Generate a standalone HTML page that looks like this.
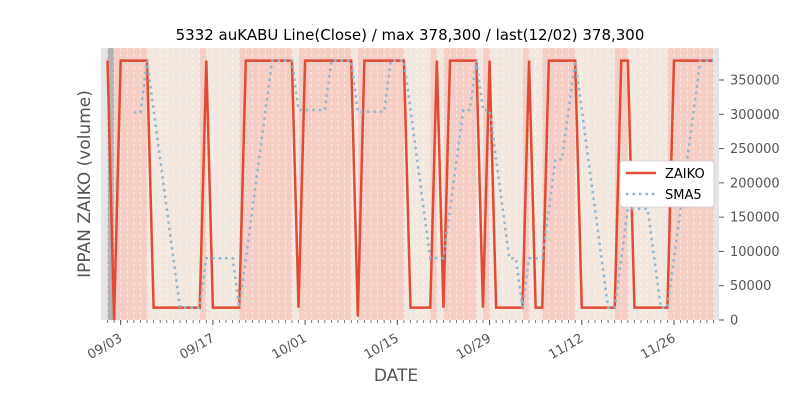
<!DOCTYPE html>
<html><head><meta charset="utf-8"><style>
body{margin:0;background:#fff;}
svg{display:block;font-family:"Liberation Sans","DejaVu Sans",sans-serif;}
</style></head><body>
<svg id="chart" width="800" height="400" viewBox="0 0 800 400">
<text x="410" y="40" text-anchor="middle" font-size="15" font-family="DejaVu Sans, sans-serif">5332 auKABU Line(Close) / max 378,300 / last(12/02) 378,300</text>
<rect x="101" y="48" width="618" height="272" fill="#e5e5e5"/>
<g id="bands"></g><g id="grid"></g><g id="series"></g><g id="axes"></g>
<text x="396" y="381" text-anchor="middle" font-size="17" fill="#555" font-family="DejaVu Sans, sans-serif">DATE</text>
<text transform="translate(90,184) rotate(-90)" text-anchor="middle" font-size="17" fill="#555" font-family="DejaVu Sans, sans-serif">IPPAN ZAIKO (volume)</text>
<g>
<rect x="620" y="161" width="94" height="46" rx="3" fill="#fff" stroke="#ccc" stroke-width="0.8"/>
<line x1="626" y1="173" x2="656" y2="173" stroke="#e24a33" stroke-width="2.5"/>
<text x="665" y="178" font-size="13" font-family="DejaVu Sans, sans-serif">ZAIKO</text>
<line x1="626" y1="194" x2="656" y2="194" stroke="#8fb6d3" stroke-width="2.5" stroke-dasharray="2.5,4"/>
<text x="665" y="199" font-size="13" font-family="DejaVu Sans, sans-serif">SMA5</text>
</g>
</svg>
<script>
const T=378300, L=18000;
const zaiko=[T,0,T,T,T,T,T,L,L,L,L,L,L,L,L,T,L,L,L,L,L,T,T,T,T,T,T,T,T,L,T,T,T,T,T,T,T,T,5000,T,T,T,T,T,T,T,L,L,L,L,T,L,T,T,T,T,T,L,T,L,L,L,L,L,T,L,L,T,T,T,T,T,L,L,L,L,L,L,T,T,L,L,L,L,L,L,T,T,T,T,T,T,T];
const sma5=[null,null,null,null,302640,302640,378300,306240,234180,162120,90060,18000,18000,18000,18000,90060,90060,90060,90060,90060,18000,90060,162120,234180,306240,378300,378300,378300,378300,306240,306240,306240,306240,306240,378300,378300,378300,378300,303640,303640,303640,303640,303640,378300,378300,378300,306240,234180,162120,90060,90060,90060,162120,234180,306240,306240,378300,306240,306240,234180,162120,90060,90060,18000,90060,90060,90060,162120,234180,234180,306240,378300,306240,234180,162120,90060,18000,18000,90060,162120,162120,162120,162120,90060,18000,18000,90060,162120,234180,306240,378300,378300,378300];
const xTickDays=[2,16,30,44,58,72,86];
const xTickLabels=["09/03","09/17","10/01","10/15","10/29","11/12","11/26"];
const yTicks=[0,50000,100000,150000,200000,250000,300000,350000];
const NS="http://www.w3.org/2000/svg";
const STEP=6.587;
const X=i=>107.5+STEP*i, Y=v=>320-v*240/350000;
function mk(p,tag,at){const e=document.createElementNS(NS,tag);for(const k in at)e.setAttribute(k,at[k]);p.appendChild(e);return e;}
const bands=document.getElementById('bands'),grid=document.getElementById('grid'),ser=document.getElementById('series'),ax=document.getElementById('axes');
let r=mk(bands,'rect',{x:X(0),y:48,width:X(zaiko.length-1)-X(0),height:272,fill:'#f2e8df'});


for(let i=1;i<zaiko.length;i++){
  if(zaiko[i]===T){const b=mk(bands,'rect',{x:X(i-1),y:48,width:STEP+0.3,height:272,fill:'#f4cdc4'});
    
    }
  if(zaiko[i]===0){const b=mk(bands,'rect',{x:X(i-1),y:48,width:STEP,height:272,fill:'#b3b3b3'});
    
    }
}
for(let i=0;i<zaiko.length;i++){const l=mk(grid,'line',{x1:X(i),x2:X(i),y1:48,y2:320,stroke:'#fff','stroke-width':0.8,'stroke-dasharray':'3,3',opacity:0.7});
  
  
  const t=mk(ax,'line',{x1:X(i),x2:X(i),y1:320,y2:323,stroke:'#555','stroke-width':0.8});
  
  }
let p=mk(ser,'polyline',{points:zaiko.map((v,i)=>X(i)+','+Y(v)).join(' '),fill:'none',stroke:'#e24a33','stroke-width':2.5,'stroke-linejoin':'miter'});


let pts=[];sma5.forEach((v,i)=>{if(v!==null)pts.push(X(i)+','+Y(v));});
p=mk(ser,'polyline',{points:pts.join(' '),fill:'none',stroke:'#8fb6d3','stroke-width':2.5,'stroke-dasharray':'2.5,4'});


xTickDays.forEach((d,k)=>{const t=mk(ax,'line',{x1:X(d),x2:X(d),y1:320,y2:325,stroke:'#555','stroke-width':1});
  
  
  const tx=mk(ax,'text',{x:X(d)-2,y:333,'font-size':13,fill:'#555','text-anchor':'end','font-family':'DejaVu Sans, sans-serif',transform:`rotate(-30 ${X(d)-2} 333)`,'dominant-baseline':'hanging'});
  tx.textContent=xTickLabels[k];
  
  });
yTicks.forEach(v=>{const t=mk(ax,'line',{x1:719,x2:724,y1:Y(v),y2:Y(v),stroke:'#555','stroke-width':1});
  
  
  const tx=mk(ax,'text',{x:730,y:Y(v)+4.5,'font-size':13,fill:'#555','font-family':'DejaVu Sans, sans-serif'});
  tx.textContent=String(v);
  
  });
</script>
</body></html>
